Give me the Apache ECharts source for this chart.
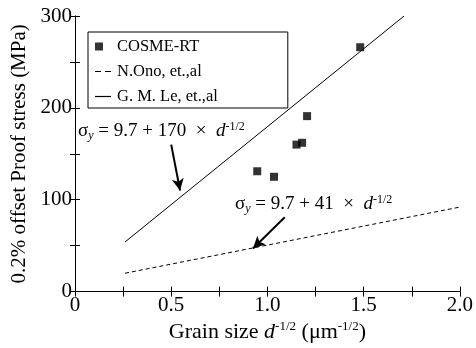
<!DOCTYPE html>
<html>
<head>
<meta charset="UTF-8">
<title>Proof stress vs grain size</title>
<script src="https://cdn.jsdelivr.net/npm/echarts@6/dist/echarts.min.js"></script>
<style>
  html, body { margin: 0; padding: 0; background: #fff; }
  #chart { width: 476px; height: 348px; }
</style>
</head>
<body>
<div id="chart"></div>
<script>
// measured points (d^-1/2, MPa)
var cosmeX = [0.947, 1.034, 1.151, 1.180, 1.206, 1.482];
var cosmeY = [131, 125, 160, 162, 191, 266];
// fitted lines, end points
var onoLine = [[0.26, 20], [2.0, 92]];
var leLine = [[0.26, 54], [1.71, 300]];
// arrows for the two formula labels
var arrowLe = [[0.50, 160], [0.546, 110]];
var arrowOno = [[1.09, 81], [0.925, 47]];

var xTicks = ['0', '', '0.5', '', '1.0', '', '1.5', '', '2.0'];
var yTicks = ['0', '', '100', '', '200', '', '300'];
var serif = '"Liberation Serif", "Times New Roman", serif';

var chart = echarts.init(document.getElementById('chart'));

var base = { fontSize: 19, fontFamily: serif, color: '#000' };
var ital = { fontSize: 19, fontFamily: serif, fontStyle: 'italic', color: '#000' };
var sup = { fontSize: 12, fontFamily: serif, color: '#000', padding: [0, 0, 8, 0] };
var subY = { fontSize: 12, fontFamily: serif, fontStyle: 'italic', color: '#000', padding: [9, 0, 0, 0] };
var tBase = { fontSize: 22, fontFamily: serif, color: '#000' };
var tItal = { fontSize: 22, fontFamily: serif, fontStyle: 'italic', color: '#000' };
var tSup = { fontSize: 13, fontFamily: serif, color: '#000', padding: [0, 0, 10, 0] };

function frameAxis(extra) {
    var a = {
        type: 'value',
        axisLine: { show: true, lineStyle: { color: '#000', width: 1 } },
        axisTick: { show: true, inside: true, length: 5, lineStyle: { color: '#000' } },
        splitLine: { show: false },
        axisLabel: { show: false }
    };
    for (var k in extra) a[k] = extra[k];
    return a;
}

var option = {
    animation: false,
    grid: { left: 75, right: 14, top: 16, bottom: 55 },
    legend: {
        orient: 'vertical',
        left: 88,
        top: 32,
        padding: [6, 70, 3, 7],
        itemGap: 8,
        itemWidth: 16,
        itemHeight: 8,
        borderColor: '#000',
        borderWidth: 1,
        textStyle: { fontFamily: serif, fontSize: 16.5, color: '#000', padding: [0, 0, 0, 1] },
        data: [
            { name: 'COSME-RT', icon: 'path://M0,0H8V8H0Z M16,4L16,4Z' },
            { name: 'N.Ono, et.,al', icon: 'path://M0,0H6V1.2H0Z M10,0H16V1.2H10Z' },
            { name: 'G. M. Le, et.,al', icon: 'path://M0,0H16V1.2H0Z' }
        ]
    },
    xAxis: [frameAxis({
        min: 0, max: 2, interval: 0.25,
        axisLabel: {
            margin: 3, fontFamily: serif, fontSize: 21, color: '#000',
            formatter: function (v) { return xTicks[Math.round(v / 0.25)]; }
        },
        name: '{a|Grain size }{i|d}{s|-1/2}{a| (μm}{s|-1/2}{a|)}',
        nameLocation: 'middle',
        nameGap: 26,
        nameTextStyle: { rich: { a: tBase, i: tItal, s: tSup } }
    }), frameAxis({
        min: 0, max: 2, interval: 0.25, position: 'top'
    })],
    yAxis: [frameAxis({
        min: 0, max: 300, interval: 50,
        axisLabel: {
            margin: 3, fontFamily: serif, fontSize: 21, color: '#000',
            formatter: function (v) { return yTicks[Math.round(v / 50)]; }
        },
        name: '0.2% offset Proof stress (MPa)',
        nameLocation: 'middle',
        nameGap: 42,
        nameTextStyle: { fontFamily: serif, fontSize: 21, color: '#000' }
    }), frameAxis({
        min: 0, max: 300, interval: 50, position: 'right'
    })],
    graphic: [{
        type: 'text', x: 78, y: 131,
        style: {
            text: '{g|σ}{y|y}{a| = 9.7 + 170  ×  }{i|d}{s|-1/2}',
            verticalAlign: 'middle',
            rich: { g: base, y: subY, a: base, i: ital, s: sup }
        }
    }, {
        type: 'text', x: 235, y: 204,
        style: {
            text: '{g|σ}{y|y}{a| = 9.7 + 41  ×  }{i|d}{s|-1/2}',
            verticalAlign: 'middle',
            rich: { g: base, y: subY, a: base, i: ital, s: sup }
        }
    }],
    series: [{
        name: 'COSME-RT',
        type: 'scatter',
        symbol: 'rect',
        symbolSize: 8,
        itemStyle: { color: '#000' },
        data: cosmeX.map(function (x, i) { return [x, cosmeY[i]]; }),
        z: 5
    }, {
        name: 'N.Ono, et.,al',
        type: 'line',
        symbol: 'none',
        lineStyle: { color: '#000', width: 1, type: [4, 3] },
        itemStyle: { color: '#000' },
        data: onoLine
    }, {
        name: 'G. M. Le, et.,al',
        type: 'line',
        symbol: 'none',
        lineStyle: { color: '#000', width: 1 },
        itemStyle: { color: '#000' },
        data: leLine,
        markLine: {
            silent: true,
            symbol: ['none', 'arrow'],
            symbolSize: [9, 12],
            label: { show: false },
            lineStyle: { color: '#000', width: 2, type: 'solid' },
            data: [
                [{ coord: arrowLe[0] }, { coord: arrowLe[1] }],
                [{ coord: arrowOno[0] }, { coord: arrowOno[1] }]
            ]
        }
    }]
};

chart.setOption(option);
</script>
</body>
</html>
